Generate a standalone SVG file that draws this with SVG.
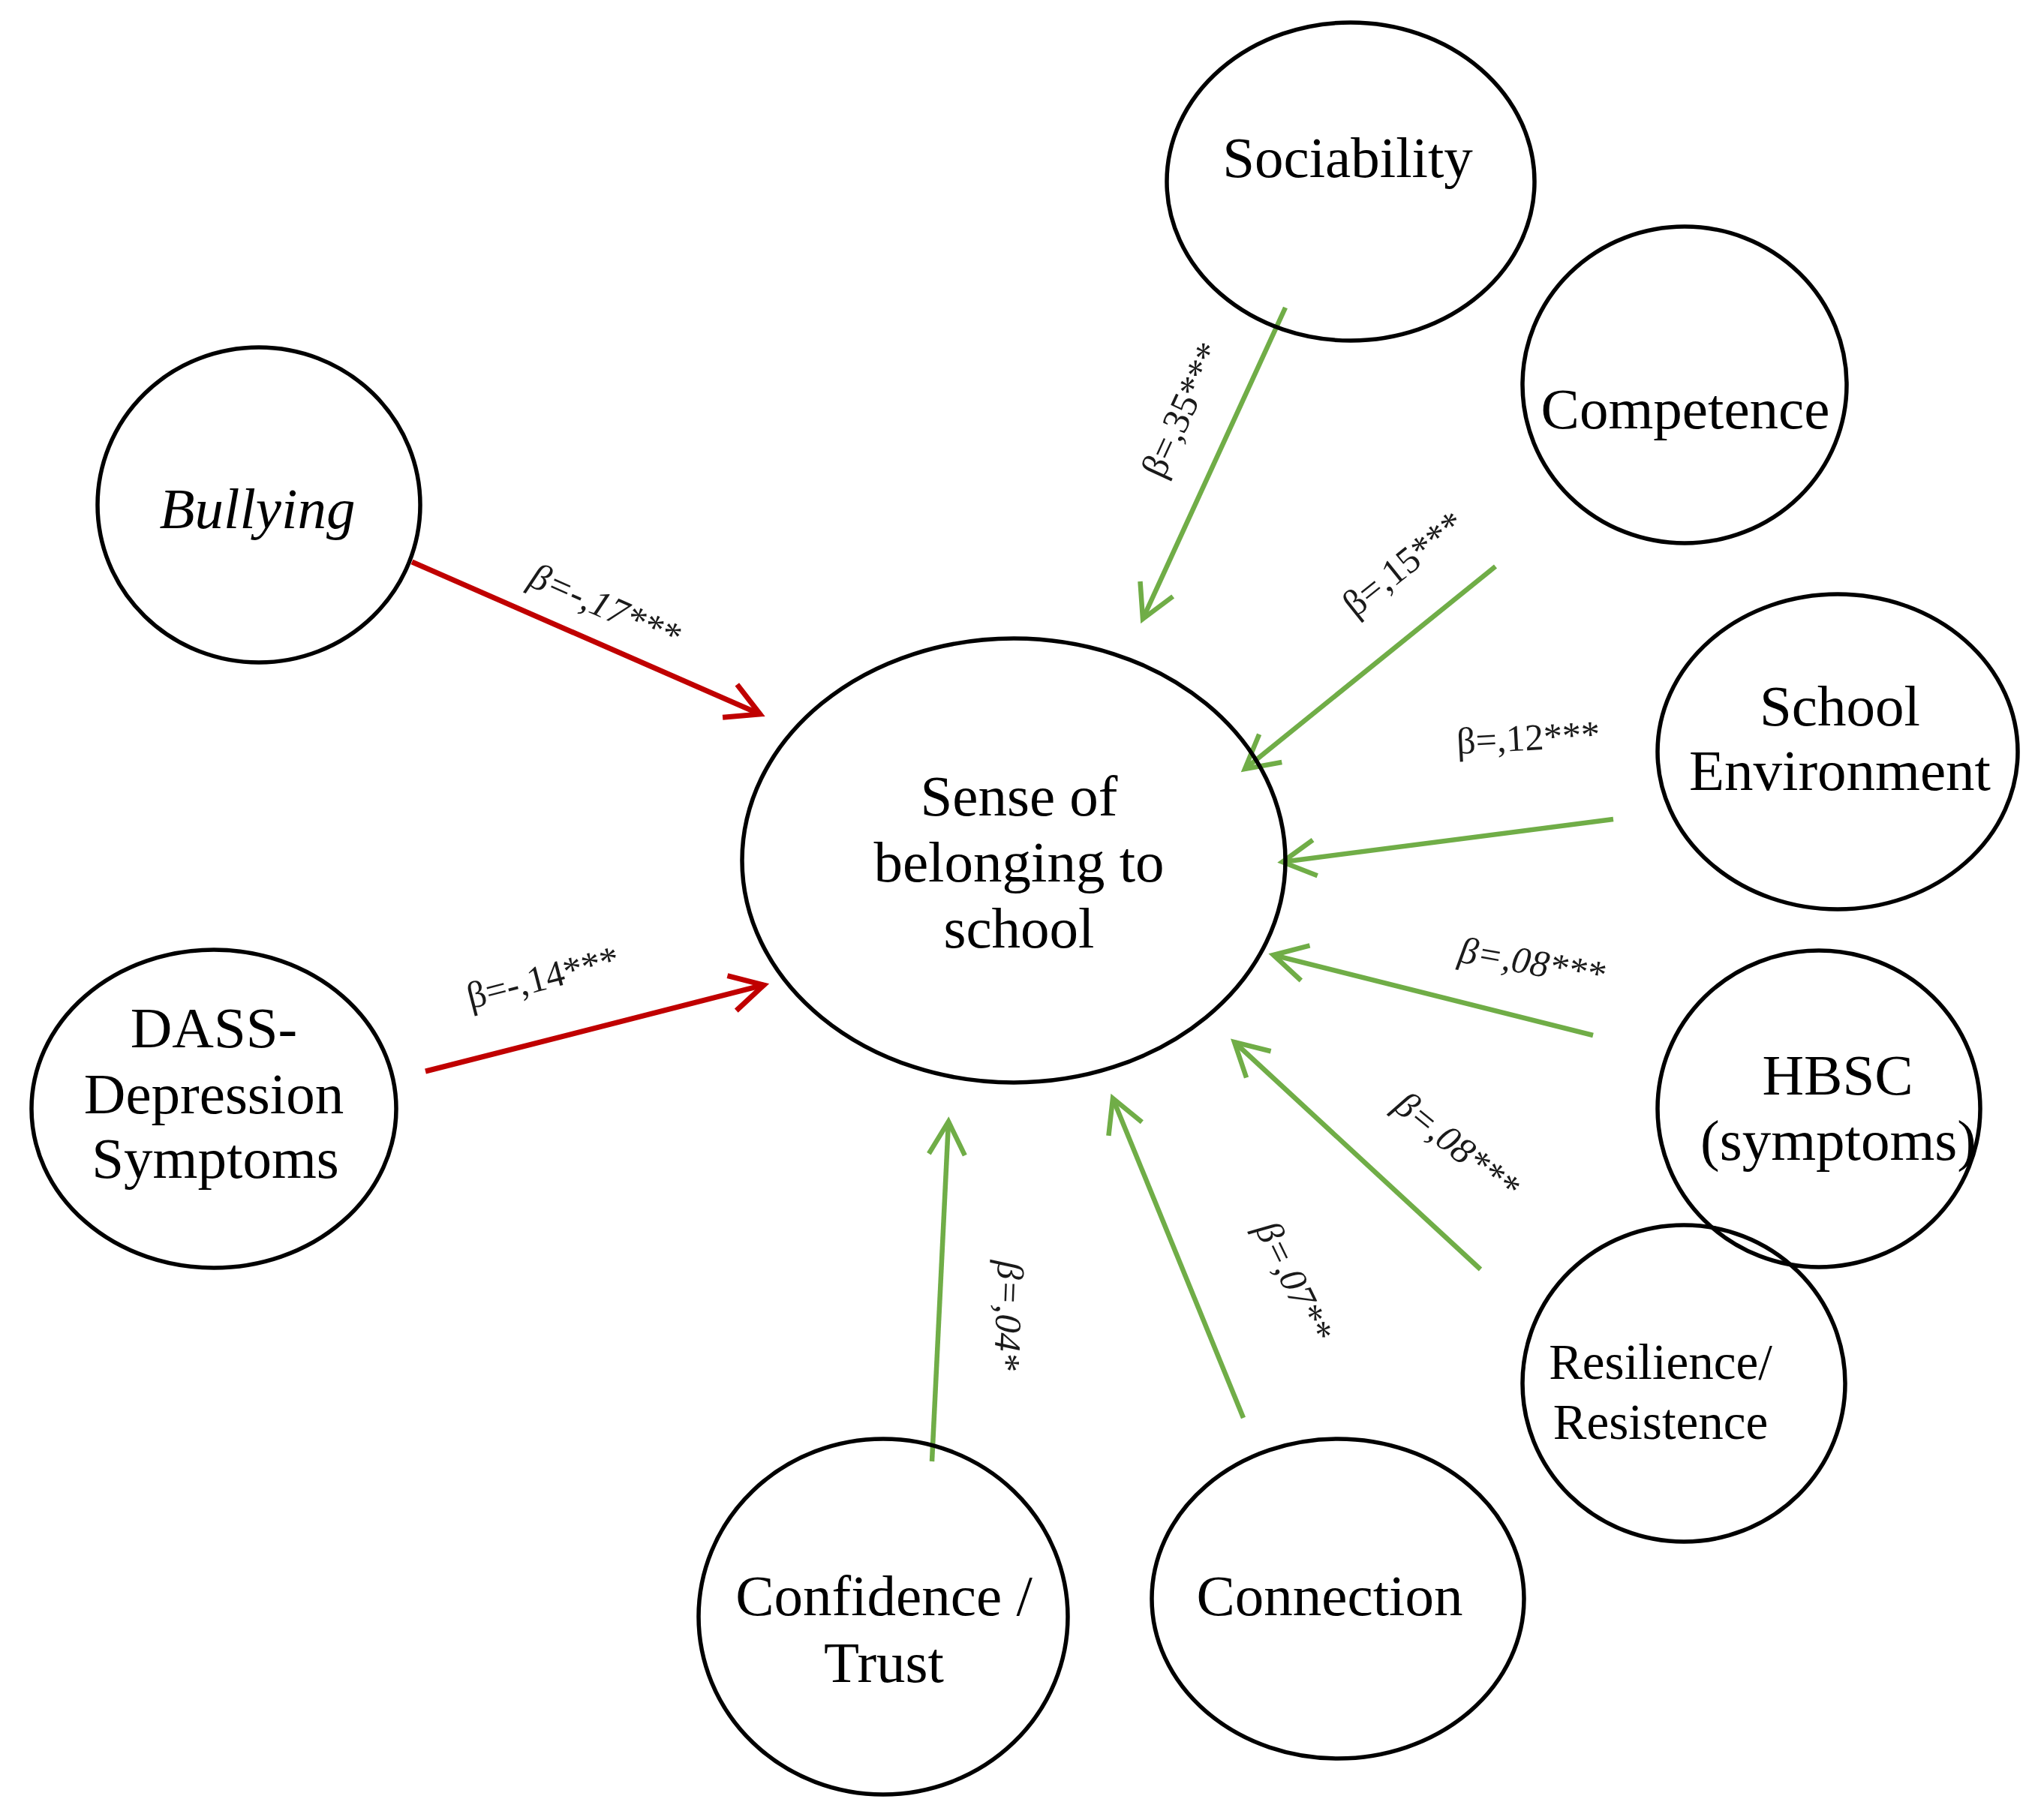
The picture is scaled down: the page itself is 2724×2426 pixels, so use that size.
<svg xmlns="http://www.w3.org/2000/svg" width="2724" height="2426" viewBox="0 0 2724 2426">
<defs>
<style>
.node ellipse{fill:none;stroke:#000;stroke-width:5.5}
.t{font-family:"Liberation Serif","Times New Roman",serif;font-size:77px;fill:#000;text-anchor:middle}
.it{font-style:italic}
.lbl{font-family:"Liberation Serif","Times New Roman",serif;font-size:50px;fill:#1a1a1a}
.red{stroke:#C00000;stroke-width:7;fill:none}
.green{stroke:#70AD47;stroke-width:6.5;fill:none}
</style>
<marker id="ar" markerUnits="userSpaceOnUse" markerWidth="80" markerHeight="80" viewBox="-60 -40 70 80" refX="0" refY="0" orient="auto">
<path d="M-44,-24 L0,0 L-44,24" fill="none" stroke="#C00000" stroke-width="7"/>
</marker>
<marker id="ag" markerUnits="userSpaceOnUse" markerWidth="80" markerHeight="80" viewBox="-60 -40 70 80" refX="0" refY="0" orient="auto">
<path d="M-44,-24 L0,0 L-44,24" fill="none" stroke="#70AD47" stroke-width="6.5"/>
</marker>
</defs>
<rect width="2724" height="2426" fill="#fff"/>

<g id="connectors">
<line class="red" x1="549" y1="749" x2="1013" y2="952" marker-end="url(#ar)"/>
<line class="red" x1="567" y1="1428" x2="1018" y2="1313" marker-end="url(#ar)"/>
<line class="green" x1="1713" y1="410" x2="1523" y2="825" marker-end="url(#ag)"/>
<line class="green" x1="1993" y1="755" x2="1659" y2="1025" marker-end="url(#ag)"/>
<line class="green" x1="2150" y1="1092" x2="1709" y2="1149" marker-end="url(#ag)"/>
<line class="green" x1="2123" y1="1380" x2="1697" y2="1273" marker-end="url(#ag)"/>
<line class="green" x1="1973" y1="1692" x2="1645" y2="1389" marker-end="url(#ag)"/>
<line class="green" x1="1657" y1="1890" x2="1483" y2="1464" marker-end="url(#ag)"/>
<line class="green" x1="1242" y1="1948" x2="1264" y2="1495" marker-end="url(#ag)"/>
<text class="lbl it" transform="translate(702,780) rotate(23.7)">β=-,17***</text>
<text class="lbl" transform="translate(627,1345) rotate(-14.5)">β=-,14***</text>
<text class="lbl" transform="translate(1550,640) rotate(-65.2)">β=,35***</text>
<text class="lbl" transform="translate(1806,824) rotate(-38.6)">β=,15***</text>
<text class="lbl" transform="translate(1942,1005) rotate(-3)">β=,12***</text>
<text class="lbl it" transform="translate(1942,1282) rotate(10)">β=,08***</text>
<text class="lbl it" transform="translate(1855,1478) rotate(39)">β=,08***</text>
<text class="lbl it" transform="translate(1672,1638) rotate(64)">β=,07**</text>
<text class="lbl it" transform="translate(1330,1680) rotate(92)">β=,04*</text>
</g>

<g id="node-sense" class="node">
<ellipse cx="1351" cy="1147" rx="362" ry="296"/>
<text class="t" x="1358" y="1087">Sense of</text>
<text class="t" x="1358" y="1175">belonging to</text>
<text class="t" x="1358" y="1263">school</text>
</g>
<g id="node-sociability" class="node">
<ellipse cx="1800" cy="242" rx="245" ry="212"/>
<text class="t" x="1796" y="236">Sociability</text>
</g>
<g id="node-competence" class="node">
<ellipse cx="2245" cy="513" rx="216" ry="211"/>
<text class="t" x="2246" y="571">Competence</text>
</g>
<g id="node-school-environment" class="node">
<ellipse cx="2449" cy="1002" rx="240" ry="210"/>
<text class="t" x="2452" y="967">School</text>
<text class="t" x="2452" y="1053">Environment</text>
</g>
<g id="node-resilience" class="node">
<ellipse cx="2244" cy="1844" rx="215" ry="211"/>
<text class="t" x="2213" y="1838" style="font-size:67px">Resilience/</text>
<text class="t" x="2213" y="1918" style="font-size:67px">Resistence</text>
</g>
<g id="node-hbsc" class="node">
<ellipse cx="2424" cy="1478" rx="215" ry="211"/>
<text class="t" x="2449" y="1459">HBSC</text>
<text class="t" x="2450" y="1546">(symptoms)</text>
</g>
<g id="node-connection" class="node">
<ellipse cx="1783" cy="2131" rx="248" ry="213"/>
<text class="t" x="1772" y="2153">Connection</text>
</g>
<g id="node-confidence" class="node">
<ellipse cx="1177" cy="2155" rx="246" ry="237"/>
<text class="t" x="1178" y="2153">Confidence /</text>
<text class="t" x="1178" y="2242">Trust</text>
</g>
<g id="node-dass" class="node">
<ellipse cx="285" cy="1478" rx="243" ry="212"/>
<text class="t" x="285" y="1396">DASS-</text>
<text class="t" x="285" y="1484">Depression</text>
<text class="t" x="287" y="1570">Symptoms</text>
</g>
<g id="node-bullying" class="node">
<ellipse cx="345" cy="673" rx="215" ry="210"/>
<text class="t it" x="343" y="704">Bullying</text>
</g>
</svg>
